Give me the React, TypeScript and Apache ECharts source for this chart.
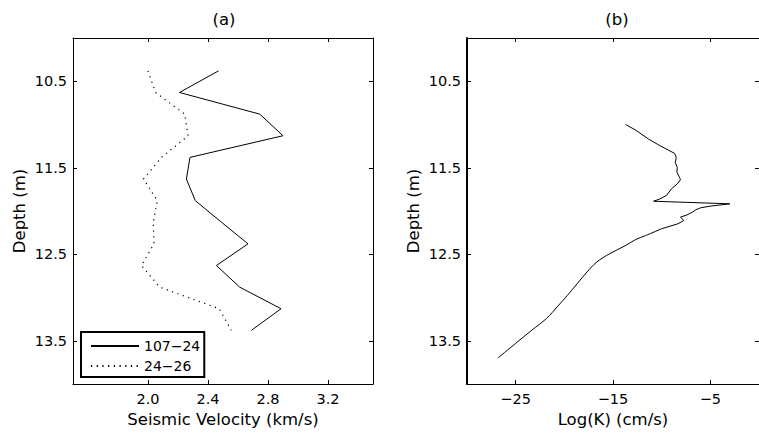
import React, { useEffect, useRef } from "react";
import * as echarts from "echarts";

// ---- Data ----
const velDepths = [10.38, 10.63, 10.88, 11.13, 11.38, 11.63, 11.88, 12.13, 12.38, 12.63, 12.88, 13.13, 13.38];
const vel10724 = [2.47, 2.21, 2.745, 2.9, 2.28, 2.256, 2.315, 2.49, 2.667, 2.456, 2.611, 2.887, 2.689];
const vel2426 = [2.0, 2.05, 2.245, 2.267, 2.09, 1.97, 2.062, 2.035, 2.04, 1.956, 2.078, 2.475, 2.555];

const kDepths = [
  11.0, 11.065, 11.17, 11.245, 11.295, 11.334, 11.38, 11.44, 11.495, 11.553, 11.61, 11.64,
  11.687, 11.744, 11.82, 11.86, 11.887, 11.917, 11.944, 11.963, 11.986, 12.013, 12.05, 12.07,
  12.11, 12.148, 12.205, 12.285, 12.33, 12.397, 12.493, 12.59, 12.705, 12.839, 12.974, 13.1,
  13.242, 13.377, 13.53, 13.7,
];
const logK = [
  -13.7, -12.67, -11.33, -10.17, -9.33, -8.67, -8.5, -8.6, -8.4, -8.43, -8.17, -8.07,
  -8.4, -9.0, -9.5, -10.17, -10.83, -3.0, -5.0, -6.0, -6.5, -6.83, -7.5, -8.07,
  -7.73, -8.33, -10.0, -11.67, -12.67, -13.67, -15.33, -16.67, -17.67, -18.67, -19.67, -20.67,
  -21.83, -23.33, -25.0, -26.83,
];
// index where the smooth (monotone) lower part of the log(K) profile begins
const kSmoothFrom = 26;

const depthTicks = [10.5, 11.5, 12.5, 13.5];
const velTicks = [2.0, 2.4, 2.8, 3.2];
const kTicks = [-25, -15, -5];

const FONT = "DejaVu Sans";

export default function App() {
  const ref = useRef<HTMLDivElement>(null);

  useEffect(() => {
    if (!ref.current) return;
    const chart = echarts.init(ref.current, null, { renderer: "svg" });

    const tickStyle = { inside: true, length: 4, lineStyle: { color: "#000", width: 1 } };
    const labelStyle = { color: "#000", fontSize: 14.5, fontFamily: FONT };
    const nameStyle = { color: "#000", fontSize: 16.5, fontFamily: FONT };
    const minusFmt = (v: number) => (v < 0 ? "\u2212" + Math.abs(v) : String(v));

    const makeX = (gridIndex: number, min: number, max: number, ticks: number[], fmt: (v: number) => string, name: string, lineW: number) => [
      {
        type: "value",
        gridIndex,
        position: "bottom",
        min,
        max,
        name,
        nameLocation: "middle",
        nameGap: 18,
        nameTextStyle: nameStyle,
        axisLine: { show: true, onZero: false, lineStyle: { color: "#000", width: lineW } },
        axisTick: { ...tickStyle, customValues: ticks },
        axisLabel: { ...labelStyle, margin: 7, customValues: ticks, formatter: fmt },
        splitLine: { show: false },
      },
      {
        type: "value",
        gridIndex,
        position: "top",
        min,
        max,
        axisLine: { show: true, onZero: false, lineStyle: { color: "#000", width: 1 } },
        axisTick: { ...tickStyle, customValues: ticks },
        axisLabel: { show: false, customValues: ticks },
        splitLine: { show: false },
      },
    ];

    const makeY = (gridIndex: number, lineW: number) => [
      {
        type: "value",
        gridIndex,
        position: "left",
        inverse: true,
        min: 10,
        max: 14,
        name: "Depth (m)",
        nameLocation: "middle",
        nameGap: 45,
        nameTextStyle: nameStyle,
        axisLine: { show: true, onZero: false, lineStyle: { color: "#000", width: lineW } },
        axisTick: { ...tickStyle, customValues: depthTicks },
        axisLabel: { ...labelStyle, margin: 6, customValues: depthTicks, formatter: (v: number) => v.toFixed(1) },
        splitLine: { show: false },
      },
      {
        type: "value",
        gridIndex,
        position: "right",
        inverse: true,
        min: 10,
        max: 14,
        axisLine: { show: true, onZero: false, lineStyle: { color: "#000", width: 1 } },
        axisTick: { ...tickStyle, customValues: depthTicks },
        axisLabel: { show: false, customValues: depthTicks },
        splitLine: { show: false },
      },
    ];

    const kPoints = kDepths.map((d, i) => [logK[i], d]);

    const option: any = {
      animation: false,
      backgroundColor: "#fff",
      textStyle: { fontFamily: FONT },
      grid: [
        { left: 73, top: 38, width: 300, height: 346 },
        { left: 467, top: 38, width: 300, height: 346 },
      ],
      xAxis: [
        ...makeX(0, 1.5, 3.5, velTicks, (v: number) => v.toFixed(1), "Seismic Velocity (km/s)", 1),
        ...makeX(1, -30, 0, kTicks, minusFmt, "Log(K) (cm/s)", 1),
      ],
      yAxis: [...makeY(0, 1), ...makeY(1, 2)],
      legend: {
        data: ["107\u221224", "24\u221226"],
        orient: "vertical",
        left: 81,
        top: 332,
        padding: [7, 4, 4, 9],
        itemWidth: 48,
        itemHeight: 14,
        itemGap: 6,
        borderColor: "#000",
        borderWidth: 2,
        borderRadius: 0,
        backgroundColor: "#fff",
        itemStyle: { opacity: 0 },
        textStyle: { color: "#000", fontSize: 14, fontFamily: FONT },
        selectedMode: false,
      },
      graphic: [
        { type: "text", x: 224, y: 19, style: { text: "(a)", align: "center", verticalAlign: "middle", font: `16.5px "${FONT}"`, fill: "#000" } },
        { type: "text", x: 617, y: 19, style: { text: "(b)", align: "center", verticalAlign: "middle", font: `16.5px "${FONT}"`, fill: "#000" } },
      ],
      series: [
        {
          name: "107\u221224",
          type: "line",
          xAxisIndex: 0,
          yAxisIndex: 0,
          data: velDepths.map((d, i) => [vel10724[i], d]),
          showSymbol: false,
          symbol: "none",
          lineStyle: { color: "#000", width: 1, type: "solid" },
          itemStyle: { color: "#000" },
        },
        {
          name: "24\u221226",
          type: "line",
          xAxisIndex: 0,
          yAxisIndex: 0,
          data: velDepths.map((d, i) => [vel2426[i], d]),
          showSymbol: false,
          symbol: "none",
          lineStyle: { color: "#000", width: 1.2, type: [1.2, 4.5] },
          itemStyle: { color: "#000" },
        },
        {
          name: "logK",
          type: "line",
          xAxisIndex: 2,
          yAxisIndex: 2,
          data: kPoints.slice(0, kSmoothFrom + 1),
          showSymbol: false,
          symbol: "none",
          lineStyle: { color: "#000", width: 1 },
          itemStyle: { color: "#000" },
        },
        {
          name: "logK-lower",
          type: "line",
          xAxisIndex: 2,
          yAxisIndex: 2,
          data: kPoints.slice(kSmoothFrom),
          showSymbol: false,
          symbol: "none",
          smooth: 0.35,
          lineStyle: { color: "#000", width: 1 },
          itemStyle: { color: "#000" },
        },
      ],
    };

    chart.setOption(option);
    return () => chart.dispose();
  }, []);

  return (
    <div
      ref={ref}
      style={{ position: "fixed", left: 0, top: 0, width: 759, height: 434, background: "#fff" }}
    />
  );
}
